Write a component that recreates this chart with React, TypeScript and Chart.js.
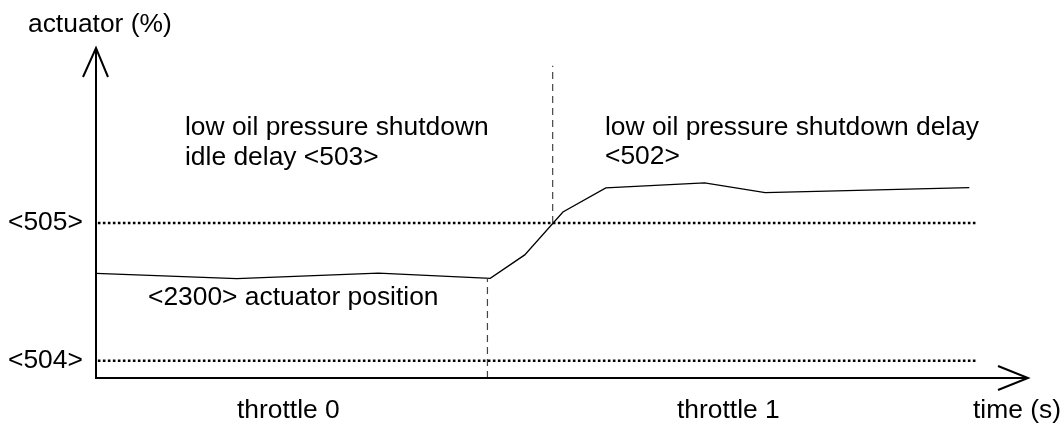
import React, { useEffect, useRef } from "react";
import { Chart, registerables } from "chart.js";

Chart.register(...registerables);

// actuator position trace (time in s-units, actuator in %)
const timeS = [0, 15.1, 30.3, 42.3, 46.0, 50.1, 54.7, 65.3, 71.8, 93.7];
const actuatorPct = [31.7, 30.1, 31.8, 30.2, 37.3, 50.3, 57.6, 59.1, 56.2, 57.7];

// limit levels (dotted horizontal lines)
const limitLabels = ["<504>", "<505>"];
const limitValues = [5.2, 47.0];
const limitStartX = 0.2;
const limitEndX = 94.6;

// phase boundaries (dashed vertical lines): x, yFrom, yTo
const boundaryX = [42.0, 49.0];
const boundaryFrom = [0, 47.0];
const boundaryTo = [30.2, 94.6];

const xMax = 100;
const yMax = 100;

const FONT = '26.4px "Liberation Sans", Arial, sans-serif';

const annotationPlugin = {
  id: "diagramDecor",
  afterDraw(chart: any) {
    const { ctx, chartArea } = chart;
    const { left, right, top, bottom } = chartArea;
    ctx.save();
    ctx.strokeStyle = "#000";
    ctx.lineWidth = 2;
    ctx.lineCap = "butt";
    // y axis
    ctx.beginPath();
    ctx.moveTo(left, bottom + 1);
    ctx.lineTo(left, top);
    ctx.stroke();
    ctx.beginPath();
    ctx.moveTo(left - 13, top + 29);
    ctx.lineTo(left, top);
    ctx.lineTo(left + 12, top + 29);
    ctx.stroke();
    // x axis
    ctx.beginPath();
    ctx.moveTo(left - 1, bottom);
    ctx.lineTo(right, bottom);
    ctx.stroke();
    ctx.beginPath();
    ctx.moveTo(right - 30, bottom - 12);
    ctx.lineTo(right, bottom);
    ctx.lineTo(right - 30, bottom + 12);
    ctx.stroke();

    // texts
    ctx.fillStyle = "#000";
    ctx.font = FONT;
    ctx.textBaseline = "middle";
    ctx.textAlign = "left";
    const ys = chart.scales.y;
    ctx.fillText("actuator (%)", 28, 25);
    ctx.fillText("low oil pressure shutdown", 185, 128);
    ctx.fillText("idle delay <503>", 185, 158);
    ctx.fillText("low oil pressure shutdown delay", 605, 128);
    ctx.fillText("<502>", 605, 157);
    limitLabels.forEach((lab, i) => {
      ctx.fillText(lab, 8, ys.getPixelForValue(limitValues[i]));
    });
    ctx.fillText("<2300> actuator position", 148, 298);
    ctx.fillText("throttle 0", 237, 411);
    ctx.fillText("throttle 1", 677, 411);
    ctx.fillText("time (s)", 973, 411);
    ctx.restore();
  },
};

export default function App() {
  const ref = useRef<HTMLCanvasElement | null>(null);
  useEffect(() => {
    if (!ref.current) return;
    const datasets: any[] = [];
    limitValues.forEach((v) => {
      datasets.push({
        data: [
          { x: limitStartX, y: v },
          { x: limitEndX, y: v },
        ],
        borderColor: "#000",
        borderWidth: 2.5,
        borderDash: [2.6, 2.4],
        pointRadius: 0,
        fill: false,
        tension: 0,
      });
    });
    boundaryX.forEach((bx, i) => {
      datasets.push({
        data: [
          { x: bx, y: boundaryFrom[i] },
          { x: bx, y: boundaryTo[i] },
        ],
        borderColor: "#444",
        borderWidth: 1.2,
        borderDash: [7, 5],
        pointRadius: 0,
        fill: false,
        tension: 0,
      });
    });
    datasets.push({
      label: "<2300> actuator position",
      data: timeS.map((t, i) => ({ x: t, y: actuatorPct[i] })),
      borderColor: "#000",
      borderWidth: 1.3,
      pointRadius: 0,
      fill: false,
      tension: 0,
    });
    const chart = new Chart(ref.current, {
      type: "line",
      data: { datasets },
      options: {
        animation: false,
        responsive: false,
        maintainAspectRatio: false,
        clip: false as any,
        layout: { padding: { left: 96, right: 34, top: 48, bottom: 45 } },
        scales: {
          x: { type: "linear", min: 0, max: xMax, display: false },
          y: { type: "linear", min: 0, max: yMax, display: false },
        },
        plugins: {
          legend: { display: false },
          tooltip: { enabled: false },
        },
      },
      plugins: [annotationPlugin],
    });
    return () => chart.destroy();
  }, []);
  return (
    <div style={{ position: "absolute", left: 0, top: 0, width: 1062, height: 423, background: "#fff" }}>
      <canvas ref={ref} width={1062} height={423} style={{ display: "block" }} />
    </div>
  );
}
